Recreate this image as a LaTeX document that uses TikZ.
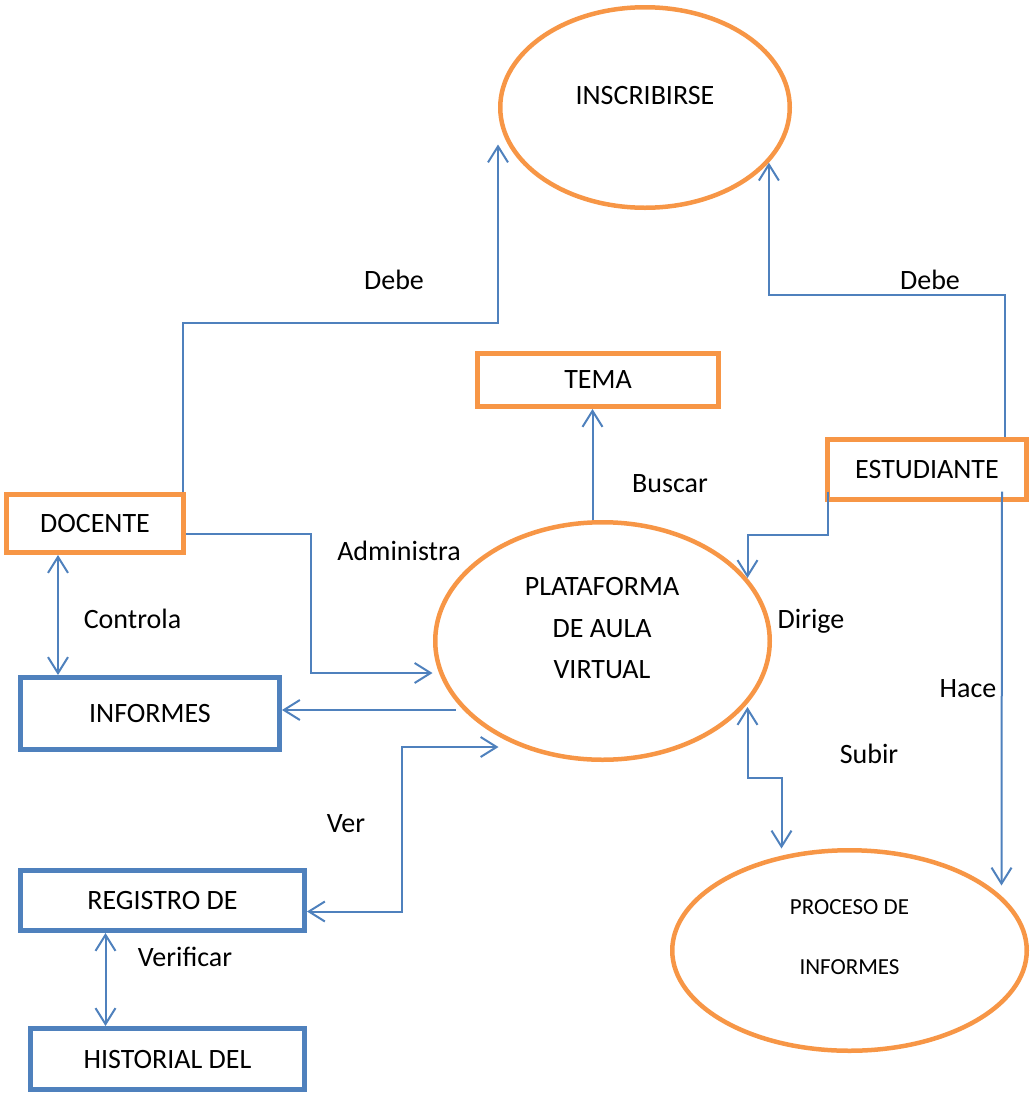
\documentclass[tikz,border=0pt]{standalone}
\usepackage{fontspec}
\setmainfont{Carlito}
\usetikzlibrary{arrows.meta,shapes.geometric}
\definecolor{naranja}{HTML}{F79646}
\definecolor{azul}{HTML}{4F81BD}
\tikzset{
  caja/.style={draw=naranja,line width=5pt,inner sep=0pt},
  cajaazul/.style={draw=azul,line width=5pt,inner sep=0pt},
  elipse/.style={draw=naranja,line width=4.5pt,ellipse,inner sep=0pt},
  texto/.style={inner sep=0pt,text height=18pt,text depth=0pt},
  enlace/.style={draw=azul,line width=2pt},
}
\begin{document}
\begin{tikzpicture}[x=1pt,y=-1pt,font=\fontsize{28}{34}\selectfont,>={Straight Barb[length=16pt,width=20pt]}]
	\useasboundingbox (0,0) rectangle (1031,1093);

	\node[elipse,minimum width=289.5pt,minimum height=200.5pt] (inscribirse) at (645,107.5) {};
	\node[texto] (inscribirse-t) at (645,95) {INSCRIBIRSE};
	\node[elipse,minimum width=334.5pt,minimum height=237.5pt] (plataforma) at (602.5,641) {};
	\node[texto] (plataforma-t1) at (602,586) {PLATAFORMA};
	\node[texto] (plataforma-t2) at (602,628) {DE AULA};
	\node[texto] (plataforma-t3) at (602,669) {VIRTUAL};
	\node[elipse,minimum width=354.5pt,minimum height=200.5pt] (proceso) at (849.5,950.5) {};
	\node[texto,text height=14.8pt,font=\fontsize{23}{28}\selectfont] (proceso-t1) at (849.5,907) {PROCESO DE};
	\node[texto,text height=14.8pt,font=\fontsize{23}{28}\selectfont] (proceso-t2) at (849.5,967) {INFORMES};

	\node[caja,minimum width=241pt,minimum height=53pt] (tema) at (598,380) {TEMA};
	\node[caja,minimum width=199pt,minimum height=60pt] (estudiante) at (927,469.5) {ESTUDIANTE};
	\node[caja,minimum width=177pt,minimum height=58pt] (docente) at (95,523.5) {DOCENTE};
	\node[cajaazul,minimum width=259pt,minimum height=72pt] (informes) at (150,713.5) {INFORMES};
	\node[cajaazul,minimum width=284pt,minimum height=60pt] (registro) at (162.5,900.5) {REGISTRO DE};
	\node[cajaazul,minimum width=274pt,minimum height=61pt] (historial) at (167.5,1059) {HISTORIAL DEL};

	\coordinate (pA) at ([shift={(-170pt,-32pt)}]plataforma.center);
	\coordinate (pI) at ([shift={(-147pt,-69pt)}]plataforma.center);
	\coordinate (pV) at ([shift={(-104pt,-106pt)}]plataforma.center);
	\coordinate (pD) at ([shift={(145pt,63pt)}]plataforma.center);
	\coordinate (pS) at ([shift={(145pt,-66pt)}]plataforma.center);
	\coordinate (qH) at ([shift={(152pt,65pt)}]proceso.center);
	\coordinate (qS) at ([shift={(-68pt,102pt)}]proceso.center);

	\draw[enlace,->] ([xshift=-3pt]docente.north east) -- ++(0,-169) -| ([yshift=-37pt]inscribirse.west);
	\draw[enlace,->] ([xshift=-24pt]estudiante.north east) -- ++(0,-142) -| (inscribirse.-24);
	\draw[enlace,->] ([xshift=-10pt]plataforma.north) -- ([xshift=-10pt]plataforma.north |- tema.south);
	\draw[enlace,->] ([yshift=-10pt]docente.east) -| ([xshift=-122pt]pA) -- (pA);
	\draw[enlace,<->] ([xshift=-37pt]docente.south) -- ([xshift=-37pt]docente.south |- informes.north);
	\draw[enlace,->] (pI) -- (pI -| informes.east);
	\draw[enlace,<->] ([yshift=-11pt]registro.east) -- ++(95,0) |- (pV);
	\draw[enlace,<->] ([xshift=-57pt]registro.south) -- ([xshift=-57pt]registro.south |- historial.north);
	\draw[enlace,->] ([shift={(3pt,-22pt)}]estudiante.west) -- ++(0,43) -| (pD);
	\draw[enlace,->] ([shift={(-27pt,-22pt)}]estudiante.east) -- (qH);
	\draw[enlace,<->] (pS) -- ++(0,71) -| (qS);

	\node[texto] (debe1) at (394,280) {Debe};
	\node[texto] (debe2) at (930,280) {Debe};
	\node[texto] (buscar) at (670,483) {Buscar};
	\node[texto] (administra) at (399,551) {Administra};
	\node[texto] (controla) at (132.5,619) {Controla};
	\node[texto] (dirige) at (811,619) {Dirige};
	\node[texto] (hace) at (968,688) {Hace};
	\node[texto] (subir) at (869,754) {Subir};
	\node[texto] (ver) at (346,823) {Ver};
	\node[texto] (verificar) at (185,957) {Verificar};
\end{tikzpicture}
\end{document}
